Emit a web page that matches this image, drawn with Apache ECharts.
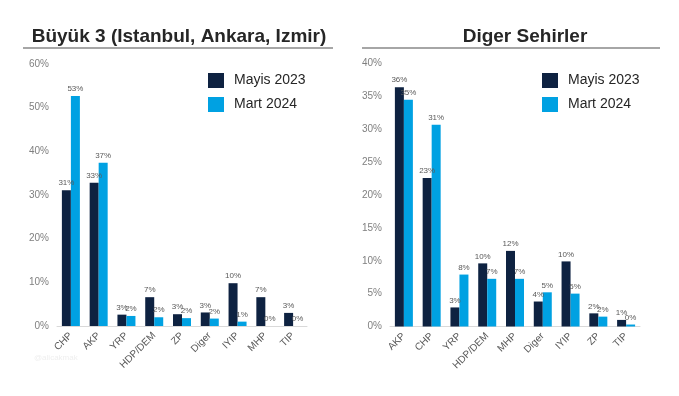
<!DOCTYPE html>
<html>
<head>
<meta charset="utf-8">
<script src="https://cdn.jsdelivr.net/npm/echarts@6/dist/echarts.min.js"></script>
<style>
  html, body { margin: 0; padding: 0; background: #fff; }
  #chart { width: 679px; height: 396px; }
</style>
</head>
<body>
<div id="chart"></div>
<script>
  // Büyük 3 (sol grafik)
  const leftCategories = ['CHP', 'AKP', 'YRP', 'HDP/DEM', 'ZP', 'Diger', 'IYIP', 'MHP', 'TIP']
  const leftMayis = [31.1, 32.8, 2.6, 6.6, 2.7, 3.1, 9.8, 6.6, 3.0]
  const leftMart = [52.7, 37.4, 2.3, 2.0, 1.8, 1.7, 1.0, 0, 0]
  // Diger sehirler (sag grafik)
  const rightCategories = ['AKP', 'CHP', 'YRP', 'HDP/DEM', 'MHP', 'Diger', 'IYIP', 'ZP', 'TIP']
  const rightMayis = [36.4, 22.6, 2.9, 9.6, 11.5, 3.8, 9.9, 2.0, 1.0]
  const rightMart = [34.5, 30.7, 7.9, 7.25, 7.25, 5.2, 5.0, 1.5, 0.3]
  const seriesNames = ['Mayis 2023', 'Mart 2024']

  const darkColor = '#0e2241'
  const lightColor = '#00a1e2'
  const grayText = '#595959'

  const chartDom = echarts.init(document.getElementById('chart'))

  /** ortak bar ayarlari */
  const makeBar = (name, data, color, idx) => ({
    name: name,
    type: 'bar',
    data: data,
    xAxisIndex: idx,
    yAxisIndex: idx,
    barWidth: 9,
    barGap: '0%',
    itemStyle: { color: color },
    label: {
      show: true,
      position: 'top',
      distance: 3,
      color: grayText,
      fontSize: 8,
      fontFamily: 'Liberation Sans',
      formatter: (p) => Math.round(p.value) + '%'
    }
  })

  const makeX = (cats, idx) => ({
    type: 'category',
    gridIndex: idx,
    data: cats,
    axisLine: { show: true, lineStyle: { color: '#d9d9d9', width: 1 } },
    axisTick: { show: false },
    axisLabel: {
      rotate: 45,
      interval: 0,
      margin: 8,
      color: grayText,
      fontSize: 10,
      fontFamily: 'Liberation Sans'
    }
  })

  const makeY = (max, interval, idx) => ({
    type: 'value',
    gridIndex: idx,
    min: 0,
    max: max,
    interval: interval,
    splitLine: { show: false },
    axisLine: { show: false },
    axisTick: { show: false },
    axisLabel: {
      formatter: '{value}%',
      color: '#7f7f7f',
      fontSize: 10,
      margin: 8,
      fontFamily: 'Liberation Sans'
    }
  })

  const makeLegend = (left) => ({
    data: seriesNames,
    orient: 'vertical',
    left: left,
    top: 73,
    padding: 0,
    itemWidth: 16,
    itemHeight: 15,
    itemGap: 9,
    icon: 'rect',
    textStyle: { fontSize: 14, color: '#262626', fontFamily: 'Liberation Sans', padding: [0, 0, 0, 5] }
  })

  chartDom.setOption({
    animation: false,
    textStyle: { fontFamily: 'Liberation Sans' },
    title: [
      {
        text: 'Büyük 3 (Istanbul, Ankara, Izmir)',
        left: 174,
        top: 22,
        textAlign: 'center',
        textStyle: { fontSize: 19, fontWeight: 'bold', color: '#262626', fontFamily: 'Liberation Sans' }
      },
      {
        text: 'Diger Sehirler',
        left: 520,
        top: 22,
        textAlign: 'center',
        textStyle: { fontSize: 19, fontWeight: 'bold', color: '#262626', fontFamily: 'Liberation Sans' }
      }
    ],
    graphic: [
      { type: 'rect', shape: { x: 23, y: 47, width: 310, height: 2 }, style: { fill: '#a6a6a6' } },
      { type: 'rect', shape: { x: 362, y: 47, width: 298, height: 2 }, style: { fill: '#a6a6a6' } },
      {
        type: 'text', left: 34, top: 354,
        style: { text: '@alicakmak', fill: '#efefef', fontSize: 8, fontFamily: 'Liberation Sans' }
      }
    ],
    legend: [makeLegend(208), makeLegend(542)],
    grid: [
      { left: 57, top: 64, width: 250, height: 262 },
      { left: 390, top: 63.5, width: 250, height: 263 }
    ],
    xAxis: [makeX(leftCategories, 0), makeX(rightCategories, 1)],
    yAxis: [makeY(60, 10, 0), makeY(40, 5, 1)],
    series: [
      makeBar(seriesNames[0], leftMayis, darkColor, 0),
      makeBar(seriesNames[1], leftMart, lightColor, 0),
      makeBar(seriesNames[0], rightMayis, darkColor, 1),
      makeBar(seriesNames[1], rightMart, lightColor, 1)
    ]
  })

  window.addEventListener('resize', () => chartDom.resize())
</script>
</body>
</html>
